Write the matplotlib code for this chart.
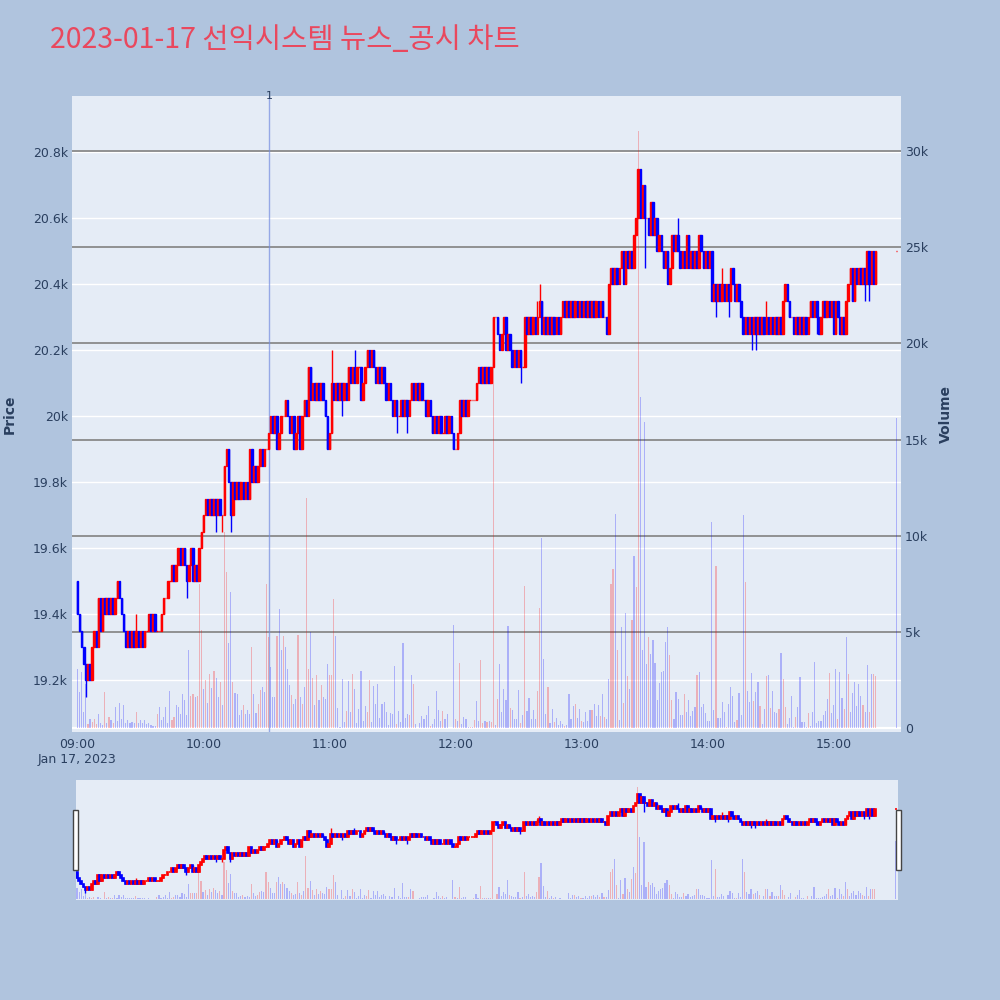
import numpy as np
import matplotlib.pyplot as plt
import matplotlib.transforms as mtransforms
from matplotlib.patches import Rectangle

plt.rcParams['font.family'] = ['DejaVu Sans', 'Noto Sans CJK KR']

title = '2023-01-17 선익시스템 뉴스_공시 차트'

# minute candles from 09:00 (minute 0) to 15:20 (minute 380)
first_open = 19500
closes = [
    19400, 19350, 19300, 19250, 19200, 19250, 19200, 19300, 19350, 19300,
    19450, 19350, 19450, 19400, 19450, 19400, 19450, 19400, 19450, 19500,
    19450, 19400, 19350, 19300, 19350, 19300, 19350, 19300, 19350, 19300,
    19350, 19300, 19350, 19350, 19400, 19350, 19400, 19350, 19350, 19350,
    19400, 19450, 19450, 19500, 19500, 19550, 19500, 19550, 19600, 19550,
    19600, 19550, 19500, 19550, 19600, 19500, 19550, 19500, 19600, 19650,
    19700, 19750, 19700, 19750, 19700, 19750, 19700, 19750, 19700, 19700,
    19850, 19900, 19800, 19700, 19800, 19750, 19800, 19750, 19800, 19750,
    19800, 19750, 19900, 19800, 19850, 19800, 19850, 19900, 19850, 19900,
    19900, 19950, 20000, 19950, 20000, 19900, 19950, 20000, 20000, 20050,
    20000, 19950, 20000, 19900, 19950, 20000, 19900, 20000, 20050, 20000,
    20150, 20050, 20100, 20050, 20100, 20050, 20100, 20050, 20000, 19900,
    19950, 20100, 20050, 20100, 20050, 20100, 20050, 20100, 20050, 20150,
    20100, 20150, 20100, 20150, 20150, 20050, 20100, 20150, 20200, 20150,
    20200, 20150, 20100, 20150, 20100, 20150, 20100, 20050, 20100, 20050,
    20000, 20050, 20000, 20000, 20050, 20000, 20050, 20000, 20050, 20100,
    20050, 20100, 20050, 20100, 20050, 20050, 20000, 20050, 20000, 19950,
    20000, 19950, 20000, 19950, 19950, 20000, 19950, 20000, 19950, 19900,
    19900, 19950, 20050, 20000, 20050, 20000, 20050, 20050, 20050, 20050,
    20100, 20150, 20100, 20150, 20100, 20150, 20100, 20150, 20300, 20300,
    20250, 20200, 20250, 20300, 20200, 20250, 20200, 20150, 20200, 20150,
    20200, 20150, 20150, 20300, 20250, 20300, 20250, 20300, 20250, 20300,
    20350, 20250, 20300, 20250, 20300, 20250, 20300, 20250, 20300, 20250,
    20300, 20350, 20300, 20350, 20300, 20350, 20300, 20350, 20300, 20350,
    20300, 20350, 20300, 20350, 20300, 20350, 20300, 20350, 20300, 20350,
    20300, 20300, 20250, 20400, 20450, 20400, 20450, 20400, 20450, 20500,
    20400, 20500, 20450, 20500, 20450, 20550, 20600, 20750, 20600, 20700,
    20600, 20600, 20550, 20650, 20550, 20600, 20500, 20550, 20500, 20450,
    20500, 20400, 20450, 20550, 20500, 20550, 20500, 20450, 20500, 20450,
    20550, 20450, 20500, 20450, 20500, 20450, 20550, 20500, 20450, 20500,
    20450, 20500, 20350, 20400, 20350, 20400, 20350, 20400, 20350, 20400,
    20350, 20450, 20400, 20350, 20400, 20350, 20300, 20250, 20300, 20250,
    20300, 20250, 20300, 20250, 20300, 20250, 20300, 20250, 20300, 20250,
    20300, 20250, 20300, 20250, 20300, 20250, 20350, 20400, 20350, 20300,
    20300, 20250, 20300, 20250, 20300, 20250, 20300, 20250, 20300, 20350,
    20300, 20350, 20300, 20250, 20300, 20350, 20300, 20350, 20300, 20350,
    20250, 20350, 20300, 20250, 20300, 20250, 20350, 20400, 20450, 20350,
    20450, 20400, 20450, 20400, 20450, 20400, 20500, 20400, 20500, 20400,
    20500,
]
wick_high = {28: 19400, 121: 20200, 132: 20200, 219: 20350, 220: 20400,
             286: 20600, 307: 20450, 311: 20450, 328: 20350}
wick_low = {4: 19150, 52: 19450, 66: 19650, 69: 19650, 73: 19650, 126: 20000,
            152: 19950, 157: 19950, 211: 20100, 270: 20450, 304: 20300,
            310: 20300, 321: 20200, 323: 20200, 352: 20250, 375: 20350, 377: 20350}

volumes = [
    3100, 1890, 2920, 850, 2320, 240, 500, 330, 500, 200,
    760, 280, 190, 1890, 300, 590, 415, 250, 1100, 400,
    1300, 500, 1190, 300, 420, 250, 330, 250, 850, 250,
    420, 300, 450, 200, 250, 150, 120, 100, 760, 1100,
    420, 590, 1100, 300, 1940, 420, 590, 1190, 1100, 760,
    1800, 1450, 700, 4080, 1700, 1800, 1600, 1700, 7500, 5090,
    2060, 2490, 1300, 2840, 2100, 2980, 2600, 1600, 2400, 1200,
    10200, 8100, 4430, 7080, 2400, 1830, 1800, 690, 960, 1190,
    760, 930, 760, 4220, 1760, 800, 1280, 1970, 2150, 1890,
    7510, 4740, 3180, 1630, 1630, 4770, 6210, 4080, 4770, 4220,
    3100, 2230, 1720, 1280, 1540, 4830, 1630, 1280, 2150, 11970,
    3100, 5000, 2600, 1200, 2770, 1450, 2230, 1630, 1540, 3360,
    2750, 2750, 6730, 4770, 1070, 70, 2540, 330, 880, 2440,
    850, 2840, 2020, 290, 990, 2960, 380, 1160, 850, 2490,
    330, 2200, 1250, 2320, 540, 1250, 1370, 850, 190, 810,
    760, 3240, 210, 900, 330, 4450, 550, 760, 670, 2750,
    2320, 210, 20, 290, 620, 500, 670, 1140, 120, 210,
    470, 1940, 930, 380, 900, 470, 730, 20, 20, 5350,
    500, 380, 3410, 240, 590, 500, 70, 70, 70, 450,
    1420, 380, 3560, 290, 380, 330, 360, 330, 21300, 160,
    1540, 3360, 850, 2020, 1450, 5310, 1070, 930, 500, 500,
    2010, 290, 670, 7400, 900, 1570, 500, 930, 500, 1940,
    6250, 9880, 3580, 760, 2150, 280, 1020, 330, 550, 160,
    380, 210, 120, 160, 1800, 470, 1140, 1250, 540, 990,
    380, 330, 850, 360, 970, 930, 1280, 620, 1190, 620,
    1800, 590, 500, 2580, 7510, 8250, 11140, 4050, 420, 5260,
    1330, 6000, 2720, 2020, 5610, 8930, 7340, 31000, 17200, 4050,
    15900, 3360, 4740, 3880, 4570, 3410, 1450, 2350, 2920, 2980,
    4480, 5280, 3800, 1470, 480, 1900, 1520, 690, 690, 1780,
    830, 1470, 640, 920, 1120, 2770, 2900, 1120, 1250, 780,
    400, 400, 10730, 950, 8440, 520, 520, 1380, 865, 50,
    1250, 2160, 1700, 350, 430, 1820, 690, 11070, 7580, 1950,
    1380, 2890, 1420, 1870, 2420, 1160, 220, 1000, 2730, 2770,
    1040, 1940, 865, 780, 1000, 3930, 2560, 1090, 220, 520,
    1700, 90, 600, 1090, 2650, 310, 310, 90, 780, 140,
    865, 3430, 260, 380, 380, 690, 920, 1500, 2890, 780,
    1210, 3080, 470, 2940, 1590, 1000, 4760, 2800, 830, 1820,
    2390, 1180, 2300, 1700, 1210, 830, 3290, 830, 2800, 2800,
    2700,
]
red_volume_minutes = [
    5, 7, 8, 9, 13, 15, 17, 28, 38, 45, 46, 54, 55, 57, 58, 59, 61, 63, 65, 68,
    70, 71, 74, 79, 83, 86, 87, 90, 91, 95, 98, 102, 105, 107, 109, 110, 112,
    114, 116, 120, 121, 122, 128, 131, 138, 139, 152, 158, 160, 162, 168, 174,
    180, 182, 187, 189, 192, 193, 195, 197, 198, 200, 206, 211, 213, 219, 220,
    224, 227, 232, 237, 240, 245, 249, 251, 254, 255, 257, 260, 262, 264, 266,
    267, 272, 282, 283, 289, 295, 304, 309, 314, 318, 322, 325, 328, 330, 334,
    336, 337, 342, 348, 358, 362, 365, 367, 374, 377, 379, 380,
]

# closing auction at 15:30
closing_minute = 390
closing_price = 20500
closing_volume = 16100

news_minutes = [91.3]
news_labels = ['1']

time_ticks = [0, 60, 120, 180, 240, 300, 360]
time_labels = ['09:00\nJan 17, 2023', '10:00', '11:00', '12:00', '13:00', '14:00', '15:00']
price_ticks = [19200, 19400, 19600, 19800, 20000, 20200, 20400, 20600, 20800]
price_labels = ['19.2k', '19.4k', '19.6k', '19.8k', '20k', '20.2k', '20.4k', '20.6k', '20.8k']
volume_ticks = [0, 5000, 10000, 15000, 20000, 25000, 30000]
volume_labels = ['0', '5k', '10k', '15k', '20k', '25k', '30k']

# ---- build ohlc
n = min(len(closes), len(volumes))
xs = np.append(np.arange(n), closing_minute).astype(float)
c = np.array(closes[:n] + [closing_price], dtype=float)
o = np.concatenate([[first_open], c[:-1]])
hi = np.maximum(o, c)
lo = np.minimum(o, c)
for m, p in wick_high.items():
    hi[m] = max(hi[m], p)
for m, p in wick_low.items():
    lo[m] = min(lo[m], p)
cand_col = ['#ff0000' if cc >= oo else '#0000ff' for oo, cc in zip(o, c)]
vols = np.array(volumes[:n] + [closing_volume], dtype=float)
red_set = set(red_volume_minutes)
vol_col = [(1, 0, 0, 0.25) if int(m) in red_set else (0, 0, 1, 0.25) for m in xs]

P_LO, P_HI = 19043, 20971
V_LO, V_HI = -192, 32841
TXT = '#2a3f5f'
BG = '#e5ecf6'


def rect(l, t, r, b):
    return [l / 1000, 1 - b / 1000, (r - l) / 1000, (b - t) / 1000]


def draw(vax, pax, body_lw, wick_lw, bar_w):
    vax.bar(xs, vols, width=bar_w, color=vol_col, linewidth=0, zorder=2)
    pax.vlines(xs, lo, hi, colors=cand_col, linewidth=wick_lw, zorder=3)
    pax.bar(xs, np.abs(c - o), bottom=np.minimum(o, c), width=0.75,
            color=cand_col, edgecolor=cand_col, linewidth=body_lw, zorder=3)


fig = plt.figure(figsize=(10, 10), dpi=100, facecolor='#b0c4de')

vol_ax = fig.add_axes(rect(72, 96, 901, 732))
vol_ax.set_facecolor(BG)
price_ax = vol_ax.twinx()

draw(vol_ax, price_ax, 1.0, 1.0, 0.55)

vol_ax.set_xlim(-2.6, 392.1)
vol_ax.set_ylim(V_LO, V_HI)
price_ax.set_ylim(P_LO, P_HI)

# price grid (white) drawn on the volume axes so it stays behind the bars
for p in price_ticks:
    v = V_LO + (p - P_LO) / (P_HI - P_LO) * (V_HI - V_LO)
    vol_ax.axhline(v, color='white', lw=1.0, zorder=0.8)
for v in volume_ticks[1:]:
    vol_ax.axhline(v, color='#8a8a8a', lw=1.3, zorder=0.9)
vol_ax.axhline(0, color='white', lw=1.6, zorder=0.9)

for m, lab in zip(news_minutes, news_labels):
    vol_ax.axvline(m, color=(0.45, 0.55, 0.88, 0.7), lw=1.0, zorder=1)
    tr = mtransforms.blended_transform_factory(vol_ax.transData, vol_ax.transAxes)
    price_ax.text(m, 1.0, lab, transform=tr, ha='center', va='center',
                  fontsize=8, color=TXT, zorder=5)

vol_ax.set_xticks(time_ticks, time_labels)
vol_ax.yaxis.tick_right()
vol_ax.set_yticks(volume_ticks, volume_labels)
price_ax.yaxis.tick_left()
price_ax.set_yticks(price_ticks, price_labels)
for a in (vol_ax, price_ax):
    a.tick_params(length=0, labelsize=9, labelcolor=TXT, pad=3)
    for s in a.spines.values():
        s.set_visible(False)
vol_ax.tick_params(axis='x', pad=4)

fig.text(10 / 1000, 1 - 414 / 1000, 'Price', rotation=90, ha='center', va='center',
         fontsize=10, fontweight='bold', color=TXT)
fig.text(946 / 1000, 1 - 414 / 1000, 'Volume', rotation=90, ha='center', va='center',
         fontsize=10, fontweight='bold', color=TXT)
fig.text(50 / 1000, 1 - 40 / 1000, title, ha='left', va='center', fontsize=20.5,
         color='#e9485e', family=['Noto Sans CJK KR', 'DejaVu Sans'])

# range slider
s_vol = fig.add_axes(rect(76, 780, 898, 900))
s_vol.set_facecolor(BG)
s_price = s_vol.twinx()
draw(s_vol, s_price, 1.2, 1.0, 0.55)
s_vol.set_xlim(-0.5, 391)
s_vol.set_ylim(V_LO, V_HI)
s_price.set_ylim(P_LO, P_HI)
for a in (s_vol, s_price):
    a.set_xticks([])
    a.set_yticks([])
    for s in a.spines.values():
        s.set_visible(False)

for l in (73, 896):
    fig.add_artist(Rectangle((l / 1000, 1 - 870 / 1000), 5 / 1000, 60 / 1000,
                             transform=fig.transFigure, facecolor='white',
                             edgecolor='#444444', lw=1))

fig.savefig('out.png', dpi=100, facecolor=fig.get_facecolor())
